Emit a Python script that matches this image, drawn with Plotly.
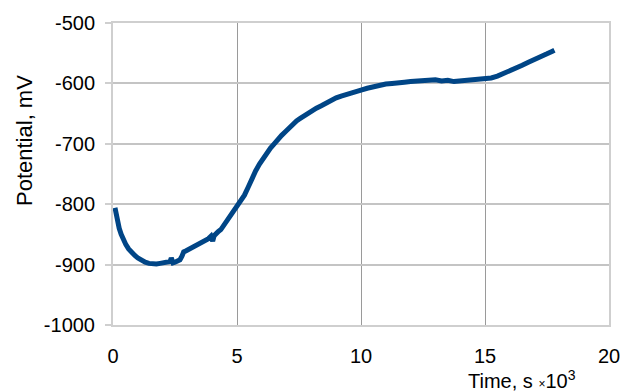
import plotly.graph_objects as go

time_k = [0.08,0.12,0.18,0.25,0.33,0.42,0.52,0.63,0.75,0.88,1.0,1.15,1.3,1.45,1.6,1.75,1.9,2.05,2.2,2.3,2.35,2.42,2.5,2.6,2.7,2.78,2.85,2.95,3.1,3.25,3.4,3.55,3.7,3.85,3.95,4.02,4.08,4.15,4.25,4.35,4.45,4.55,4.65,4.75,4.85,4.95,5.05,5.15,5.3,5.45,5.6,5.75,5.9,6.05,6.2,6.35,6.5,6.65,6.8,6.95,7.1,7.25,7.4,7.55,7.7,7.85,8.0,8.2,8.4,8.6,8.8,9.0,9.2,9.4,9.6,9.8,10.0,10.25,10.5,10.75,11.0,11.25,11.5,11.75,12.0,12.25,12.5,12.75,13.0,13.25,13.5,13.75,14.0,14.25,14.5,14.75,15.0,15.25,15.5,15.75,16.0,16.25,16.5,16.75,17.0,17.25,17.5,17.7,17.8]
potential_mv = [-806,-815,-828,-840,-850,-859,-867,-874,-880,-885,-889,-893,-896,-898,-899,-899,-898,-897,-896,-895,-889,-897,-896,-894,-892,-886,-879,-877,-874,-871,-868,-865,-861,-857,-853,-861,-852,-848,-845,-842,-836,-831,-827,-820,-813,-806,-800,-795,-785,-772,-757,-745,-734,-724,-716,-707,-700,-692,-686,-680,-673,-668,-662,-658,-654,-649,-645,-641,-637,-632,-628,-624,-621,-618,-615,-613,-611,-608,-605,-603,-601,-600,-598,-598,-597,-596,-595,-595,-594,-596,-595,-597,-596,-595,-594,-593,-593,-591,-588,-584,-579,-574,-570,-565,-561,-556,-551,-547,-545]

x_ticks = [0, 5, 10, 15, 20]
x_labels = ["0", "5", "10", "15", "20"]
y_ticks = [-1000, -900, -800, -700, -600, -500]
y_labels = ["-1000", "-900", "-800", "-700", "-600", "-500"]

FONT = "Liberation Sans, Arial, sans-serif"

fig = go.Figure()
fig.add_trace(go.Scatter(x=time_k, y=potential_mv, mode="lines",
                         line=dict(color="#004586", width=5), showlegend=False))

fig.update_layout(
    width=622, height=392,
    margin=dict(l=113, r=13, t=23, b=67, autoexpand=False),
    paper_bgcolor="white", plot_bgcolor="white",
    font=dict(family=FONT, size=20, color="black"),
    xaxis=dict(range=[0, 20], tickvals=x_ticks, ticktext=x_labels, showgrid=True, gridcolor="#9a9a9a", gridwidth=1,
               zeroline=False, showline=True, linecolor="#cfcfcf", linewidth=2, mirror=True,
               ticks="", ticklabelstandoff=12, automargin=False, fixedrange=True),
    yaxis=dict(range=[-1000, -500], tickvals=y_ticks, ticktext=y_labels, showgrid=True, gridcolor="#c4c4c4", gridwidth=1.5,
               zeroline=False, showline=True, linecolor="#cfcfcf", linewidth=2, mirror=True,
               ticks="outside", ticklen=6, tickcolor="#cfcfcf", tickwidth=1.5, ticklabelstandoff=6,
               automargin=False, fixedrange=True),
    annotations=[
        dict(text="Potential, mV", textangle=-90, xref="paper", yref="paper",
             x=-0.177, y=0.61, xanchor="center", yanchor="middle", showarrow=False,
             font=dict(family=FONT, size=22)),
        dict(text="Time, s <span style='font-size:12px'>×</span>10<sup>3</sup>", xref="paper", yref="paper",
             x=0.712, y=-0.133, xanchor="left", yanchor="top", showarrow=False,
             font=dict(family=FONT, size=20)),
    ],
)

fig.write_html("out.html")
